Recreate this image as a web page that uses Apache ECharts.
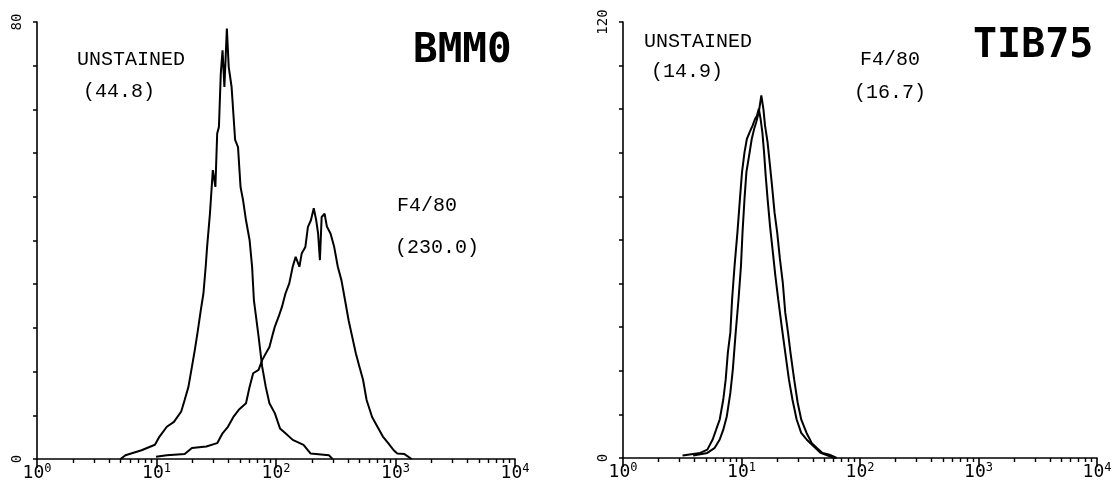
<!DOCTYPE html>
<html><head><meta charset="utf-8">
<script src="https://cdn.jsdelivr.net/npm/echarts@6/dist/echarts.min.js"></script>
<style>html,body{margin:0;padding:0;background:#fff}#c{width:1115px;height:487px}</style>
</head><body><div id="c"></div>
<script>
// ---- Data (fluorescence intensity, cell count) ----
const bmmUnstainedX = [5.0, 5.5, 7.5, 9.7, 10.6, 12.2, 14.0, 16.1, 17.2, 18.5, 19.8, 20.9, 22.0, 23.5, 24.7, 25.8, 26.5, 28.0, 29.6, 31.1, 32.2, 33.3, 34.5, 35.7, 37.0, 38.8, 40.2, 42.5, 45.5, 48.1, 50.5, 53.0, 56.1, 60.1, 63.1, 65.3, 68.1, 71.5, 76.6, 82.1, 88.1, 97.7, 108, 120, 138, 170, 195, 277, 297];
const bmmUnstainedY = [0, 0.7, 1.6, 2.6, 4.1, 5.9, 6.8, 8.7, 10.8, 13.2, 16.9, 19.9, 23.0, 27.3, 30.3, 35.2, 38.8, 44.9, 52.9, 49.8, 59.6, 60.8, 70.5, 74.8, 68.1, 78.8, 71.8, 68.1, 58.4, 57.1, 49.8, 47.4, 43.7, 40.1, 35.2, 29.1, 26.0, 22.4, 16.9, 13.2, 10.2, 8.4, 5.6, 4.7, 3.5, 2.6, 1.0, 0.7, 0];
const bmmF480X = [9.9, 12.2, 17.2, 19.8, 26.1, 32.2, 35.7, 39.6, 44.0, 48.8, 56.1, 60.1, 64.4, 71.5, 76.6, 82.1, 88.1, 94.4, 97.7, 105, 112, 120, 129, 138, 146, 157, 164, 176, 185, 196, 207, 217, 225, 233, 241, 255, 267, 286, 307, 329, 353, 378, 405, 434, 466, 499, 535, 573, 637, 706, 784, 869, 966, 1035, 1188, 1365];
const bmmF480Y = [0.4, 0.7, 0.9, 2.0, 2.3, 2.9, 4.7, 5.9, 7.7, 9.0, 10.2, 13.2, 15.7, 16.3, 18.1, 19.3, 20.5, 23.0, 24.2, 26.0, 27.8, 30.3, 32.1, 35.2, 37.0, 35.2, 37.6, 38.8, 42.5, 43.7, 45.9, 43.7, 41.3, 36.4, 44.3, 44.9, 42.5, 41.3, 38.8, 35.2, 32.7, 29.1, 25.4, 22.4, 19.3, 16.9, 14.5, 10.8, 7.7, 5.9, 4.1, 2.9, 1.6, 1.0, 0.9, 0];
const tibUnstainedX = [3.18, 4.48, 5.15, 5.71, 6.11, 6.55, 7.02, 7.36, 7.67, 8.05, 8.33, 8.74, 9.24, 9.70, 10.1, 10.6, 11.1, 11.7, 12.4, 13.0, 13.5, 14.0, 14.5, 15.0, 15.5, 16.0, 16.6, 17.4, 18.4, 19.3, 20.4, 21.8, 23.4, 25.1, 26.9, 29.2, 31.9, 35.4, 40.6, 46.6, 53.5, 61.4];
const tibUnstainedY = [0.7, 1.4, 2.3, 5.1, 7.8, 10.6, 16.1, 21.7, 29.0, 34.5, 43.7, 52.9, 62.1, 71.3, 78.7, 84.1, 87.8, 89.6, 91.5, 93.3, 94.2, 96.1, 93.3, 89.6, 84.1, 77.7, 71.3, 63.9, 56.5, 50.2, 43.7, 36.4, 29.0, 21.7, 16.1, 10.6, 6.9, 5.1, 3.2, 1.4, 0.7, 0];
const tibF480X = [3.91, 5.15, 5.91, 6.55, 7.02, 7.52, 8.05, 8.45, 8.93, 9.44, 9.90, 10.2, 10.6, 11.0, 11.6, 12.2, 12.8, 13.3, 14.0, 14.7, 15.3, 15.8, 16.6, 17.4, 18.1, 19.0, 20.0, 21.1, 22.3, 23.4, 24.7, 25.9, 27.8, 29.8, 31.9, 35.4, 39.2, 43.5, 48.2, 55.3, 63.5];
const tibF480Y = [0.7, 1.4, 2.7, 5.1, 7.8, 11.5, 17.9, 24.4, 34.5, 43.7, 52.9, 62.1, 71.3, 78.7, 83.3, 87.8, 90.6, 92.4, 95.2, 99.8, 96.1, 91.5, 86.9, 80.4, 74.9, 67.6, 62.1, 54.8, 48.3, 40.0, 34.5, 29.0, 21.7, 15.2, 10.6, 6.9, 4.1, 2.7, 1.4, 0.9, 0];

// ---- Axis ticks / labels ----
const decadeValues = [1, 10, 100, 1000, 10000];
const decadeExponents = ['0', '1', '2', '3', '4'];
const minorMultipliers = [2, 3, 4, 5, 6, 7, 8, 9];
const leftYMax = 80, leftYInterval = 8, leftYLabels = [0, 80];
const rightYMax = 120, rightYInterval = 12, rightYLabels = [0, 120];

const minorTicks = [];
decadeValues.slice(0, 4).forEach(d => minorMultipliers.forEach(m => minorTicks.push(d * m)));

const zip = (xs, ys) => xs.map((x, i) => [x, ys[i]]);
const MONO = 'DejaVu Sans Mono';

function mainX(g) {
  return {
    type: 'log', logBase: 10, min: 1, max: 10000, gridIndex: g, position: 'bottom',
    axisLine: { onZero: false, lineStyle: { color: '#000', width: 1.6 } },
    axisTick: { length: 9, lineStyle: { color: '#000', width: 1.6 } },
    splitLine: { show: false },
    axisLabel: {
      margin: 4,
      formatter: v => {
        const i = decadeValues.indexOf(Math.round(v));
        return '{b|10}{s|' + (i >= 0 ? decadeExponents[i] : '') + '}';
      },
      rich: {
        b: { fontFamily: MONO, fontSize: 18, color: '#000', lineHeight: 20 },
        s: { fontFamily: MONO, fontSize: 12, color: '#000', verticalAlign: 'top', lineHeight: 20 }
      }
    }
  };
}
function minorX(g) {
  return {
    type: 'log', logBase: 10, min: 1, max: 10000, gridIndex: g, position: 'bottom',
    axisLine: { show: false },
    axisTick: { show: true, length: 4, customValues: minorTicks, lineStyle: { color: '#000', width: 1.4 } },
    axisLabel: { show: false },
    splitLine: { show: false }
  };
}
function yAx(g, max, interval, labels) {
  return {
    type: 'value', min: 0, max: max, interval: interval, gridIndex: g,
    axisLine: { show: true, lineStyle: { color: '#000', width: 1.6 } },
    axisTick: { show: true, length: 4, lineStyle: { color: '#000', width: 1.5 } },
    splitLine: { show: false },
    axisLabel: {
      rotate: 90, margin: 13, fontFamily: MONO, fontSize: 14, color: '#000',
      formatter: v => labels.indexOf(v) >= 0 ? String(v) : ''
    }
  };
}
function curve(x, y, xi, yi) {
  return {
    type: 'line', xAxisIndex: xi, yAxisIndex: yi, data: zip(x, y),
    showSymbol: false, symbol: 'none', silent: true,
    lineStyle: { color: '#000', width: 2 }
  };
}
function txt(x, y, s, size, bold) {
  return {
    type: 'text', x: x, y: y, silent: true,
    style: { text: s, fill: '#000', font: (bold ? 'bold ' : '') + size + 'px "' + (bold ? MONO : 'Liberation Mono') + '"', textVerticalAlign: 'middle', textAlign: 'left' }
  };
}

const chart = echarts.init(document.getElementById('c'), null, { renderer: 'canvas' });
chart.setOption({
  animation: false,
  backgroundColor: '#fff',
  grid: [
    { left: 37, top: 22, width: 478, height: 437 },
    { left: 623, top: 22, width: 474, height: 436 }
  ],
  xAxis: [mainX(0), minorX(0), mainX(1), minorX(1)],
  yAxis: [yAx(0, leftYMax, leftYInterval, leftYLabels), yAx(1, rightYMax, rightYInterval, rightYLabels)],
  series: [
    curve(bmmUnstainedX, bmmUnstainedY, 0, 0),
    curve(bmmF480X, bmmF480Y, 0, 0),
    curve(tibUnstainedX, tibUnstainedY, 2, 1),
    curve(tibF480X, tibF480Y, 2, 1)
  ],
  graphic: [
    txt(77, 60, 'UNSTAINED', 20),
    txt(83, 92, '(44.8)', 20),
    txt(397, 206, 'F4/80', 20),
    txt(395, 248, '(230.0)', 20),
    txt(413, 51, 'BMM0', 41, true),
    txt(644, 42, 'UNSTAINED', 20),
    txt(651, 72, '(14.9)', 20),
    txt(860, 60, 'F4/80', 20),
    txt(854, 93, '(16.7)', 20),
    txt(973, 47, 'TIB75', 40, true)
  ]
});
</script></body></html>
